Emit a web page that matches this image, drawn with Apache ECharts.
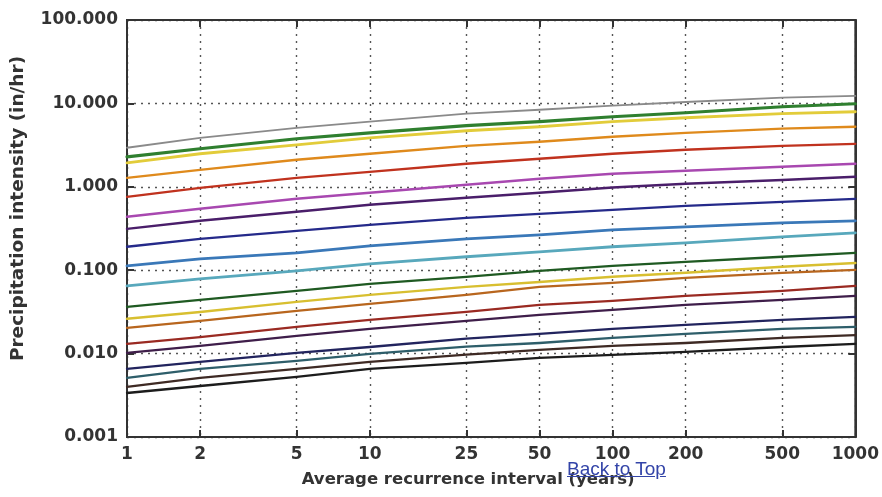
<!DOCTYPE html>
<html>
<head>
<meta charset="utf-8">
<script src="https://cdn.jsdelivr.net/npm/echarts@6.0.0/dist/echarts.min.js"></script>
<style>
  html, body { margin: 0; padding: 0; background: #fff; }
  #chart { position: absolute; left: 0; top: 0; width: 882px; height: 497px; }
  #backtop {
    position: absolute; left: 567px; top: 459px;
    font-family: "Liberation Sans", Arial, sans-serif; font-size: 19px; line-height: 20px;
    color: #3344a8; text-decoration: underline;
  }
</style>
</head>
<body>
<div id="chart"></div>
<a id="backtop" href="#">Back to Top</a>
<script>
// Average recurrence interval (years)
const ari = [1, 2, 5, 10, 25, 50, 100, 200, 500, 1000];
const yTicks = [0.001, 0.01, 0.1, 1, 10, 100];

// Precipitation intensity (in/hr) by storm duration
const d5min   = [2.94, 3.87, 5.10, 6.03, 7.52, 8.39, 9.38, 10.4, 11.7, 12.3];
const d10min  = [2.29, 2.86, 3.77, 4.44, 5.40, 6.03, 6.92, 7.73, 9.12, 9.91];
const d15min  = [1.94, 2.49, 3.19, 3.87, 4.70, 5.25, 6.03, 6.73, 7.52, 7.94];
const d30min  = [1.28, 1.60, 2.11, 2.49, 3.10, 3.47, 3.98, 4.44, 4.97, 5.25];
const d60min  = [0.759, 0.973, 1.28, 1.51, 1.89, 2.17, 2.49, 2.78, 3.10, 3.28];
const d2hr    = [0.437, 0.545, 0.718, 0.847, 1.06, 1.25, 1.43, 1.56, 1.74, 1.89];
const d3hr    = [0.313, 0.391, 0.501, 0.608, 0.738, 0.847, 0.98, 1.09, 1.21, 1.32];
const d6hr    = [0.191, 0.238, 0.296, 0.350, 0.425, 0.474, 0.530, 0.592, 0.661, 0.718];
const d12hr   = [0.113, 0.137, 0.161, 0.196, 0.238, 0.265, 0.305, 0.331, 0.370, 0.391];
const d24hr   = [0.0649, 0.0787, 0.0982, 0.119, 0.145, 0.166, 0.191, 0.213, 0.251, 0.281];
const d2day   = [0.0363, 0.0441, 0.0565, 0.0686, 0.0832, 0.0982, 0.113, 0.126, 0.145, 0.161];
const d3day   = [0.0261, 0.0316, 0.0417, 0.0506, 0.0631, 0.0724, 0.0832, 0.0929, 0.110, 0.122];
const d4day   = [0.0203, 0.0247, 0.0325, 0.0394, 0.0506, 0.0631, 0.0705, 0.0809, 0.0929, 0.101];
const d7day   = [0.0131, 0.0158, 0.0209, 0.0254, 0.0317, 0.0384, 0.0429, 0.0492, 0.0565, 0.0649];
const d10day  = [0.0102, 0.0124, 0.0163, 0.0198, 0.0247, 0.0291, 0.0334, 0.0384, 0.0441, 0.0492];
const d20day  = [0.00655, 0.00794, 0.0102, 0.0120, 0.0151, 0.0172, 0.0198, 0.0221, 0.0254, 0.0275];
const d30day  = [0.00511, 0.00655, 0.00817, 0.00991, 0.0121, 0.0134, 0.0154, 0.0172, 0.0198, 0.0209];
const d45day  = [0.00398, 0.00511, 0.00655, 0.00794, 0.0097, 0.0111, 0.0124, 0.0134, 0.0154, 0.0167];
const d60day  = [0.00337, 0.00409, 0.00525, 0.00655, 0.00775, 0.00887, 0.00964, 0.0105, 0.0120, 0.0131];

const durations = [
  { name: '5-min',  values: d5min,  color: '#8a8a8a', width: 1.8 },
  { name: '10-min', values: d10min, color: '#2f7f2f', width: 3.2 },
  { name: '15-min', values: d15min, color: '#e2cc3a', width: 2.8 },
  { name: '30-min', values: d30min, color: '#df8a1c', width: 2.3 },
  { name: '60-min', values: d60min, color: '#c0321e', width: 2.3 },
  { name: '2-hr',   values: d2hr,   color: '#a848b0', width: 2.5 },
  { name: '3-hr',   values: d3hr,   color: '#4a1e6a', width: 2.5 },
  { name: '6-hr',   values: d6hr,   color: '#252a8a', width: 2.3 },
  { name: '12-hr',  values: d12hr,  color: '#3a78b8', width: 2.8 },
  { name: '24-hr',  values: d24hr,  color: '#58a8bc', width: 2.8 },
  { name: '2-day',  values: d2day,  color: '#1f5a22', width: 2.3 },
  { name: '3-day',  values: d3day,  color: '#d8bf30', width: 2.5 },
  { name: '4-day',  values: d4day,  color: '#b8661e', width: 2.3 },
  { name: '7-day',  values: d7day,  color: '#9a2a22', width: 2.3 },
  { name: '10-day', values: d10day, color: '#3f1e4a', width: 2.3 },
  { name: '20-day', values: d20day, color: '#22245e', width: 2.3 },
  { name: '30-day', values: d30day, color: '#2e5e6a', width: 2.3 },
  { name: '45-day', values: d45day, color: '#3e2a24', width: 2.3 },
  { name: '60-day', values: d60day, color: '#1c1c1c', width: 2.3 }
];

const FONT = '"DejaVu Sans", "Noto Sans", sans-serif';
const gridLine = { show: true, lineStyle: { color: '#555', width: 1.4, type: [2, 5] } };
const tickIn = { show: true, inside: true, length: 7, lineStyle: { color: '#333', width: 2 } };
const labelStyle = { color: '#333', fontFamily: FONT, fontWeight: 'bold', fontSize: 17 };

const chart = echarts.init(document.getElementById('chart'), null, { renderer: 'canvas' });

chart.setOption({
  animation: false,
  backgroundColor: '#fff',
  grid: {
    left: 127, right: 25, top: 20, bottom: 60,
    show: true, borderColor: '#333', borderWidth: 2, backgroundColor: '#fff'
  },
  xAxis: [
    {
      type: 'log', logBase: 10, min: 1, max: 1000, position: 'bottom',
      name: 'Average recurrence interval (years)', nameLocation: 'middle', nameGap: 34,
      nameTextStyle: {
        color: '#333', fontFamily: FONT, fontWeight: 'bold', fontSize: 16.5,
        padding: [0, 46, 0, 0]
      },
      axisLine: { show: true, lineStyle: { color: '#333', width: 2 } },
      axisTick: Object.assign({ customValues: ari }, tickIn),
      axisLabel: Object.assign({ customValues: ari, margin: 9, formatter: v => String(v) }, labelStyle),
      splitLine: gridLine,
      minorTick: { show: false }, minorSplitLine: { show: false }
    },
    {
      type: 'log', logBase: 10, min: 1, max: 1000, position: 'top',
      axisLine: { show: true, lineStyle: { color: '#333', width: 2 } },
      axisTick: Object.assign({ customValues: ari }, tickIn),
      axisLabel: { show: false },
      splitLine: { show: false }
    }
  ],
  yAxis: [
    {
      type: 'log', logBase: 10, min: 0.001, max: 100, position: 'left',
      name: 'Precipitation intensity (in/hr)', nameLocation: 'middle', nameGap: 99,
      nameTextStyle: {
        color: '#333', fontFamily: FONT, fontWeight: 'bold', fontSize: 18.5,
        padding: [0, 0, 0, 40]
      },
      axisLine: { show: true, lineStyle: { color: '#333', width: 2 } },
      axisTick: Object.assign({ customValues: yTicks }, tickIn),
      axisLabel: Object.assign({ customValues: yTicks, margin: 9, formatter: v => Number(v).toFixed(3) }, labelStyle),
      splitLine: gridLine,
      minorTick: { show: false }, minorSplitLine: { show: false }
    },
    {
      type: 'log', logBase: 10, min: 0.001, max: 100, position: 'right',
      axisLine: { show: true, lineStyle: { color: '#333', width: 2 } },
      axisTick: Object.assign({ customValues: yTicks }, tickIn),
      axisLabel: { show: false },
      splitLine: { show: false }
    }
  ],
  series: durations.map(d => ({
    name: d.name,
    type: 'line',
    xAxisIndex: 0,
    yAxisIndex: 0,
    smooth: false,
    showSymbol: false,
    symbol: 'none',
    lineStyle: { color: d.color, width: d.width, join: 'round', cap: 'round' },
    data: ari.map((x, i) => [x, d.values[i]])
  }))
});
</script>
</body>
</html>
